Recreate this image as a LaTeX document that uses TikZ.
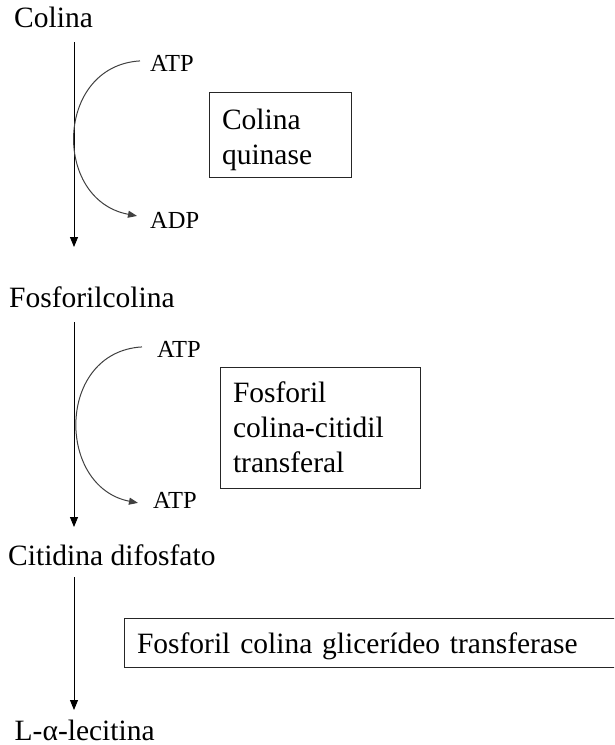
\documentclass[tikz,border=0pt]{standalone}
\usepackage{fontspec}
\setmainfont{Liberation Serif}
\usetikzlibrary{arrows.meta}
\newcommand\bigf{\fontsize{29.5pt}{35pt}\selectfont}
\newcommand\smallf{\fontsize{24.5pt}{28pt}\selectfont}
\tikzset{
  mainlabel/.style={font=\bigf, inner sep=0pt, anchor=base west},
  cofactor/.style={font=\smallf, inner sep=0pt, anchor=base west},
  enzbox/.style={draw=black!85, line width=1pt, inner xsep=13pt, inner ysep=0pt,
    outer sep=0pt, align=left, anchor=north west, font=\bigf},
  vline/.style={draw=black, line width=1pt, -{Triangle[length=10pt,width=8pt]}},
  cofcurve/.style={draw=black!75, line width=1pt, -{Triangle[length=9pt,width=7pt]}}
}
\begin{document}
\begin{tikzpicture}[x=1pt,y=-1pt]
\useasboundingbox (0,0) rectangle (614,745);
\clip (0,0) rectangle (614,745);
\coordinate (spine) at (74,0);
% metabolites
\node[mainlabel] (colina) at (14,27) {Colina};
\node[mainlabel] (fosfo) at (9,307) {Fosforilcolina};
\node[mainlabel] (citid) at (8,565) {Citidina difosfato};
\node[mainlabel] (lecit) at (14.5,740) {L-α-lecitina};
% cofactors
\node[cofactor] (atp1) at (150,71) {ATP};
\node[cofactor] (adp1) at (150,228) {ADP};
\node[cofactor] (atp2) at (157,357) {ATP};
\node[cofactor] (atp3) at (153,508) {ATP};
% enzymes
\node[enzbox, text width=116pt, text height=37pt, text depth=48pt] (enz1) at (209,92) {Colina\\quinase};
\node[enzbox, text width=174pt, text height=35pt, text depth=86pt] (enz2) at (220,367) {Fosforil\\colina-citidil\\transferal};
\node[enzbox, text width=475pt, text height=35pt, text depth=14pt] (enz3) at (124,618) {Fosforil colina glicerídeo transferase};
% main arrows
\draw[vline] ([yshift=-15pt]colina.base -| spine) -- ([yshift=60pt]fosfo.base -| spine);
\draw[vline] ([yshift=-15pt]fosfo.base -| spine) -- ([yshift=38pt]citid.base -| spine);
\draw[vline] ([yshift=-12pt]citid.base -| spine) -- ([yshift=30pt]lecit.base -| spine);
% cofactor curves
\draw[cofcurve] ([xshift=-10pt,yshift=2pt]atp1.west) .. controls +(-85,5) and +(-85,-16) .. ([xshift=-13pt,yshift=4pt]adp1.west);
\draw[cofcurve] ([xshift=-15pt,yshift=2pt]atp2.west) .. controls +(-86,5) and +(-82,-16) .. ([xshift=-15pt,yshift=-3pt]atp3.west);
\end{tikzpicture}
\end{document}
